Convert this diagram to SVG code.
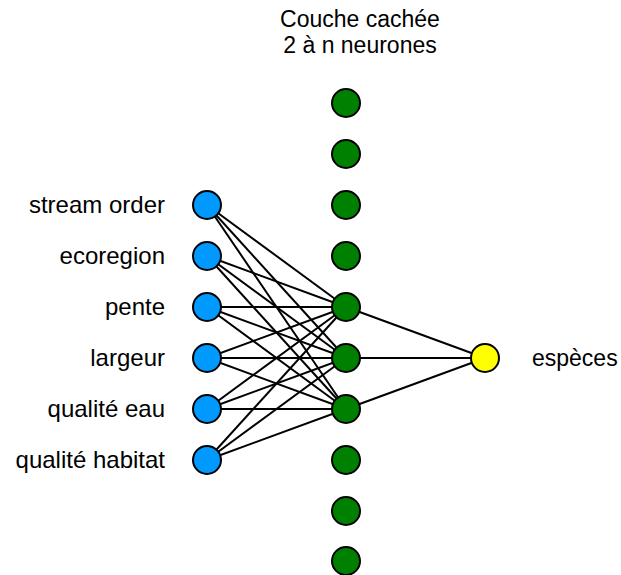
<svg xmlns="http://www.w3.org/2000/svg" width="621" height="575" viewBox="0 0 621 575">
<style>
text{font-family:"Liberation Sans",Arial,sans-serif;font-size:23px;fill:#000}
.lbl{text-anchor:end;font-size:24px}
.ttl{text-anchor:middle}
.in{fill:#0099ff;stroke:#000;stroke-width:2}
.hid{fill:#008000;stroke:#000;stroke-width:2}
.out{fill:#ffff00;stroke:#000;stroke-width:2}
#connectors line{stroke:#000;stroke-width:2}
</style>
<rect width="621" height="575" fill="#fff"/>
<g id="title"><text class="ttl" x="360" y="27">Couche cachée</text><text class="ttl" x="360" y="53">2 à n neurones</text></g>
<g id="connectors">
<line x1="207" y1="205" x2="346" y2="307"/><line x1="207" y1="205" x2="346" y2="358"/><line x1="207" y1="205" x2="346" y2="409"/>
<line x1="207" y1="256" x2="346" y2="307"/><line x1="207" y1="256" x2="346" y2="358"/><line x1="207" y1="256" x2="346" y2="409"/>
<line x1="207" y1="307" x2="346" y2="307"/><line x1="207" y1="307" x2="346" y2="358"/><line x1="207" y1="307" x2="346" y2="409"/>
<line x1="207" y1="358" x2="346" y2="307"/><line x1="207" y1="358" x2="346" y2="358"/><line x1="207" y1="358" x2="346" y2="409"/>
<line x1="207" y1="409" x2="346" y2="307"/><line x1="207" y1="409" x2="346" y2="358"/><line x1="207" y1="409" x2="346" y2="409"/>
<line x1="207" y1="460" x2="346" y2="307"/><line x1="207" y1="460" x2="346" y2="358"/><line x1="207" y1="460" x2="346" y2="409"/>
<line x1="346" y1="307" x2="485" y2="358"/><line x1="346" y1="358" x2="485" y2="358"/><line x1="346" y1="409" x2="485" y2="358"/>
</g>
<g id="in1"><circle class="in" cx="207" cy="205" r="14"/><text class="lbl" x="165" y="213">stream order</text></g>
<g id="in2"><circle class="in" cx="207" cy="256" r="14"/><text class="lbl" x="165" y="264">ecoregion</text></g>
<g id="in3"><circle class="in" cx="207" cy="307" r="14"/><text class="lbl" x="165" y="315">pente</text></g>
<g id="in4"><circle class="in" cx="207" cy="358" r="14"/><text class="lbl" x="165" y="366">largeur</text></g>
<g id="in5"><circle class="in" cx="207" cy="409" r="14"/><text class="lbl" x="165" y="417">qualité eau</text></g>
<g id="in6"><circle class="in" cx="207" cy="460" r="14"/><text class="lbl" x="165" y="468">qualité habitat</text></g>
<g id="h1"><circle class="hid" cx="346" cy="103" r="14"/></g>
<g id="h2"><circle class="hid" cx="346" cy="154" r="14"/></g>
<g id="h3"><circle class="hid" cx="346" cy="205" r="14"/></g>
<g id="h4"><circle class="hid" cx="346" cy="256" r="14"/></g>
<g id="h5"><circle class="hid" cx="346" cy="307" r="14"/></g>
<g id="h6"><circle class="hid" cx="346" cy="358" r="14"/></g>
<g id="h7"><circle class="hid" cx="346" cy="409" r="14"/></g>
<g id="h8"><circle class="hid" cx="346" cy="460" r="14"/></g>
<g id="h9"><circle class="hid" cx="346" cy="511" r="14"/></g>
<g id="h10"><circle class="hid" cx="346" cy="561" r="14"/></g>
<g id="out"><circle class="out" cx="485" cy="358" r="14"/><text x="532" y="366">espèces</text></g>
</svg>
